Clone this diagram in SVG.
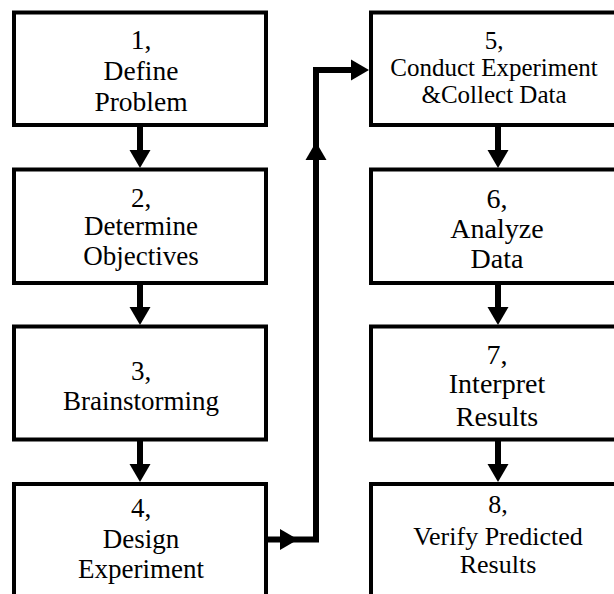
<svg xmlns="http://www.w3.org/2000/svg" xmlns:xlink="http://www.w3.org/1999/xlink" width="614" height="594" viewBox="0 0 614 594">
  <style>
    .box { fill: #fff; stroke: #000; stroke-width: 4; }
    .t { font-family: 'Liberation Serif', Tinos, 'Times New Roman', serif; font-size: 27px; fill: #000; text-anchor: middle; }
    .line { fill: none; stroke: #000; stroke-width: 6; stroke-linejoin: miter; stroke-linecap: butt; }
    .head { fill: #000; }
  </style>
  <defs>
    <polygon id="ah" points="0,0 -18,-10.5 -18,10.5"/>
  </defs>
  <rect width="614" height="594" fill="#fff"/>

  <g id="connectors">
    <line class="line" x1="140" y1="127" x2="140" y2="152"/>
    <use xlink:href="#ah" class="head" transform="translate(140,168) rotate(90)"/>
    <line class="line" x1="140" y1="285" x2="140" y2="308"/>
    <use xlink:href="#ah" class="head" transform="translate(140,325) rotate(90)"/>
    <line class="line" x1="140" y1="441" x2="140" y2="465"/>
    <use xlink:href="#ah" class="head" transform="translate(140,482) rotate(90)"/>

    <line class="line" x1="498" y1="127" x2="498" y2="152"/>
    <use xlink:href="#ah" class="head" transform="translate(498,168) rotate(90)"/>
    <line class="line" x1="498" y1="285" x2="498" y2="308"/>
    <use xlink:href="#ah" class="head" transform="translate(498,325) rotate(90)"/>
    <line class="line" x1="498" y1="441" x2="498" y2="465"/>
    <use xlink:href="#ah" class="head" transform="translate(498,482) rotate(90)"/>

    <path class="line" d="M266,539.5 H316 V70 H355"/>
    <use xlink:href="#ah" class="head" transform="translate(298,539.5)"/>
    <use xlink:href="#ah" class="head" transform="translate(316,142) rotate(-90)"/>
    <use xlink:href="#ah" class="head" transform="translate(369,70)"/>
  </g>

  <g id="n1">
    <rect class="box" x="14" y="12.5" width="252" height="112.5"/>
    <text class="t" style="font-size:27.5px" x="141" y="49">1,</text>
    <text class="t" style="font-size:27.5px" x="141" y="80">Define</text>
    <text class="t" style="font-size:27.5px" x="141" y="111">Problem</text>
  </g>
  <g id="n2">
    <rect class="box" x="14" y="169.5" width="252" height="113.5"/>
    <text class="t" x="141" y="207">2,</text>
    <text class="t" x="141" y="235">Determine</text>
    <text class="t" x="141" y="265">Objectives</text>
  </g>
  <g id="n3">
    <rect class="box" x="14" y="326.5" width="252" height="113"/>
    <text class="t" x="141" y="380">3,</text>
    <text class="t" x="141" y="410">Brainstorming</text>
  </g>
  <g id="n4">
    <rect class="box" x="14" y="484" width="252" height="130"/>
    <text class="t" x="141" y="517">4,</text>
    <text class="t" x="141" y="548">Design</text>
    <text class="t" x="141" y="578">Experiment</text>
  </g>
  <g id="n5">
    <rect class="box" x="371" y="12.5" width="252" height="112.5"/>
    <text class="t" style="font-size:25px" x="494" y="49">5,</text>
    <text class="t" style="font-size:25px" x="494" y="76">Conduct Experiment</text>
    <text class="t" style="font-size:25px" x="494" y="103">&amp;Collect Data</text>
  </g>
  <g id="n6">
    <rect class="box" x="371" y="169.5" width="252" height="113.5"/>
    <text class="t" style="font-size:28px" x="497" y="208">6,</text>
    <text class="t" style="font-size:28px" x="497" y="238">Analyze</text>
    <text class="t" style="font-size:28px" x="497" y="268">Data</text>
  </g>
  <g id="n7">
    <rect class="box" x="371" y="326.5" width="252" height="113"/>
    <text class="t" style="font-size:28px" x="497" y="364">7,</text>
    <text class="t" style="font-size:28px" x="497" y="393">Interpret</text>
    <text class="t" style="font-size:28px" x="497" y="426">Results</text>
  </g>
  <g id="n8">
    <rect class="box" x="371" y="484" width="252" height="130"/>
    <text class="t" style="font-size:26px" x="498" y="513">8,</text>
    <text class="t" style="font-size:26px" x="498" y="545">Verify Predicted</text>
    <text class="t" style="font-size:26px" x="498" y="573">Results</text>
  </g>
</svg>
